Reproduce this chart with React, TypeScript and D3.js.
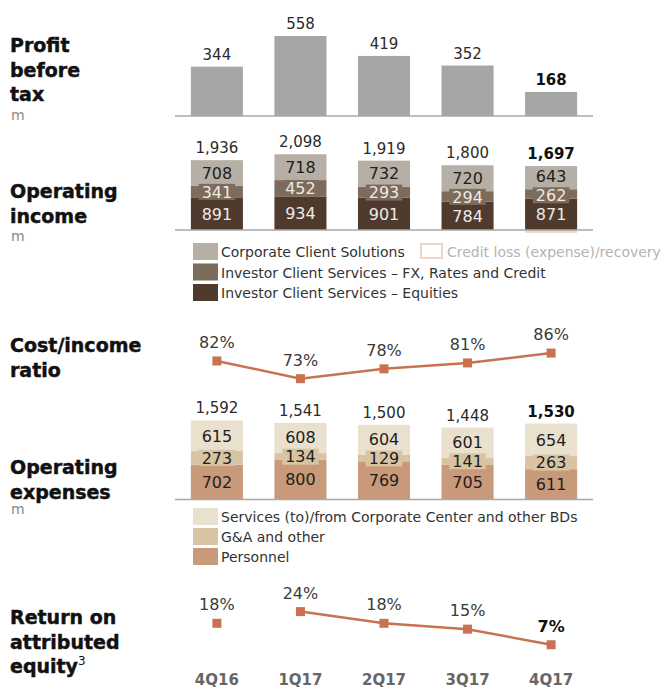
import React from "react";
import * as d3 from "d3";

const categories = ["4Q16", "1Q17", "2Q17", "3Q17", "4Q17"];
const profitBeforeTax = [344, 558, 419, 352, 168];
const ccsIncome = [708, 718, 732, 720, 643];
const icsFxIncome = [341, 452, 293, 294, 262];
const icsEqIncome = [891, 934, 901, 784, 871];
const opIncomeTotal = ["1,936", "2,098", "1,919", "1,800", "1,697"];
const creditLoss = [0, 0, 0, 0, -79];
const costIncomeRatio = [82, 73, 78, 81, 86];
const personnelExp = [702, 800, 769, 705, 611];
const gaOtherExp = [273, 134, 129, 141, 263];
const servicesExp = [615, 608, 604, 601, 654];
const opexTotal = ["1,592", "1,541", "1,500", "1,448", "1,530"];
const roeValues = [18, 24, 18, 15, 7];
const roeConnected = [false, true, true, true, true];
const highlight = [false, false, false, false, true];

const incomeLegend = [
  "Corporate Client Solutions",
  "Investor Client Services \u2013 FX, Rates and Credit",
  "Investor Client Services \u2013 Equities",
];
const creditLegend = "Credit loss (expense)/recovery";
const opexLegend = [
  "Services (to)/from Corporate Center and other BDs",
  "G&A and other",
  "Personnel",
];

const FONT = "'DejaVu Sans', Verdana, sans-serif";
const C = {
  profit: "#a6a6a6",
  ccs: "#b6afa6",
  fx: "#7d6b5b",
  eq: "#4f3b2d",
  credit: "#f2d3c6",
  services: "#e9e0cd",
  ga: "#d8c4a3",
  personnel: "#c99a79",
  line: "#c9724f",
  axis: "#a9a9a9",
  text: "#2a2a2a",
};

export default function App() {
  const x = d3
    .scaleBand<string>()
    .domain(categories)
    .range([175, 593])
    .paddingInner(0.377)
    .paddingOuter(0.19);
  const bw = x.bandwidth();
  const cx = (i: number) => (x(categories[i]) as number) + bw / 2;

  const yProfit = d3.scaleLinear().domain([0, 600]).range([116, 30]);
  const yInc = d3.scaleLinear().domain([0, 2500]).range([230, 140]);
  const yCost = d3.scaleLinear().domain([60, 90]).range([404.3, 345.2]);
  const yOpex = d3.scaleLinear().domain([0, 1600]).range([499.5, 420]);
  const yRoe = d3.scaleLinear().domain([0, 30]).range([658.4, 599.9]);

  const costLine = d3
    .line<number>()
    .x((_, i) => cx(i))
    .y((d) => yCost(d));
  const roeLine = d3
    .line<number>()
    .defined((_, i) => roeConnected[i])
    .x((_, i) => cx(i))
    .y((d) => yRoe(d));

  const titleProps = {
    fontFamily: FONT,
    fontWeight: "bold",
    fontSize: 19,
    fill: "#111",
    stroke: "#111",
    strokeWidth: 0.45,
  };

  const title = (lines: string[], y0: number, unit?: string, unitY?: number) => (
    <g>
      {lines.map((l, k) => (
        <text key={k} x={10} y={y0 + k * 24.5} {...titleProps}>
          {l}
        </text>
      ))}
      {unit && (
        <text x={11} y={unitY} fontFamily={FONT} fontSize={14} fill="#8a8a8a">
          {unit}
        </text>
      )}
    </g>
  );

  const stacked = (
    series: { vals: number[]; color: string; textColor: string; boxed?: boolean }[],
    y: d3.ScaleLinear<number, number>,
    fs: number,
    minGap: number
  ) =>
    categories.map((c, i) => {
      let acc = 0;
      const segs = series.map((s) => {
        const y0 = acc;
        acc += s.vals[i];
        return { y0, y1: acc, s, ty: (y(y0) + y(acc)) / 2 };
      });
      // resolve label overlaps between neighbouring segments
      for (let k = 1; k < segs.length; k++) {
        const gap = segs[k - 1].ty - segs[k].ty;
        if (gap < minGap) {
          const d = (minGap - gap) / 2;
          segs[k - 1].ty += d;
          segs[k].ty -= d;
        }
      }
      return (
        <g key={c}>
          {segs.map((g, k) => (
            <rect
              key={k}
              x={x(c)}
              width={bw}
              y={y(g.y1)}
              height={y(g.y0) - y(g.y1)}
              fill={g.s.color}
            />
          ))}
          {segs.map((g, k) => {
            const label = String(g.s.vals[i]);
            const w = label.length * fs * 0.636 + 6;
            return (
              <g key={"l" + k}>
                {g.s.boxed && (
                  <rect
                    x={cx(i) - w / 2}
                    y={g.ty - fs * 0.5}
                    width={w}
                    height={fs}
                    fill={g.s.color}
                  />
                )}
                <text
                  x={cx(i)}
                  y={g.ty}
                  dy="0.36em"
                  textAnchor="middle"
                  fontFamily={FONT}
                  fontSize={fs}
                  fill={g.s.textColor}
                >
                  {label}
                </text>
              </g>
            );
          })}
        </g>
      );
    });

  const valueLabel = (
    txt: string,
    px: number,
    py: number,
    bold: boolean,
    fs = 15,
    fill = C.text
  ) => (
    <text
      x={px}
      y={py}
      textAnchor="middle"
      fontFamily={FONT}
      fontSize={fs}
      fontWeight={bold ? "bold" : "normal"}
      fill={bold ? "#111" : fill}
    >
      {txt}
    </text>
  );

  return (
    <svg
      width={661}
      height={689}
      style={{ position: "absolute", left: 0, top: 0, background: "#fff" }}
    >
      {/* Titles */}
      {title(["Profit", "before", "tax"], 52, "m", 120)}
      {title(["Operating", "income"], 198, "m", 241)}
      {title(["Cost/income", "ratio"], 352, undefined)}
      {title(["Operating", "expenses"], 474, "m", 514)}
      <g>
        <text x={10} y={624} {...titleProps}>
          Return on
        </text>
        <text x={10} y={648.5} {...titleProps}>
          attributed
        </text>
        <text x={10} y={673} {...titleProps}>
          equity
          <tspan fontSize={12} dy={-8} fontWeight="normal" strokeWidth={0}>
            3
          </tspan>
        </text>
      </g>

      {/* Profit before tax */}
      {profitBeforeTax.map((v, i) => (
        <g key={i}>
          <rect
            x={x(categories[i])}
            width={bw}
            y={yProfit(v)}
            height={yProfit(0) - yProfit(v)}
            fill={C.profit}
          />
          {valueLabel(String(v), cx(i), yProfit(v) - 7, highlight[i])}
        </g>
      ))}
      <line x1={175} x2={593} y1={yProfit(0)} y2={yProfit(0)} stroke={C.axis} strokeWidth={1.5} />

      {/* Operating income */}
      {creditLoss.map((v, i) =>
        v < 0 ? (
          <rect
            key={"cl" + i}
            x={x(categories[i])}
            width={bw}
            y={yInc(0)}
            height={yInc(v) - yInc(0)}
            fill={C.credit}
          />
        ) : null
      )}
      {stacked(
        [
          { vals: icsEqIncome, color: C.eq, textColor: "#eeeae6" },
          { vals: icsFxIncome, color: C.fx, textColor: "#eeeae6", boxed: true },
          { vals: ccsIncome, color: C.ccs, textColor: "#1e1e1e" },
        ],
        yInc,
        16,
        19
      )}
      {opIncomeTotal.map((t, i) => {
        const top = icsEqIncome[i] + icsFxIncome[i] + ccsIncome[i];
        return <g key={"it" + i}>{valueLabel(t, cx(i), yInc(top) - 7, highlight[i])}</g>;
      })}
      <line x1={175} x2={593} y1={yInc(0)} y2={yInc(0)} stroke={C.axis} strokeWidth={1.5} />

      {/* Income legend */}
      {[C.ccs, C.fx, C.eq].map((col, k) => (
        <g key={"il" + k}>
          <rect x={193} y={243 + k * 20.5} width={25} height={17} fill={col} />
          <text x={221} y={252 + k * 20.5} dy="0.36em" fontFamily={FONT} fontSize={14} fill="#333">
            {incomeLegend[k]}
          </text>
        </g>
      ))}
      <rect x={421} y={244} width={21} height={14} fill="#fff" stroke={C.credit} strokeWidth={2} />
      <text x={447} y={252} dy="0.36em" fontFamily={FONT} fontSize={14} fill="#b3b3b3">
        {creditLegend}
      </text>

      {/* Cost/income ratio */}
      <path d={costLine(costIncomeRatio) || ""} fill="none" stroke={C.line} strokeWidth={2.5} />
      {costIncomeRatio.map((v, i) => (
        <g key={"ci" + i}>
          <rect x={cx(i) - 4.5} y={yCost(v) - 4.5} width={9} height={9} fill={C.line} />
          {valueLabel(v + "%", cx(i), yCost(v) - 13, false, 16, "#3a3a3a")}
        </g>
      ))}

      {/* Operating expenses */}
      {stacked(
        [
          { vals: personnelExp, color: C.personnel, textColor: "#1e1e1e" },
          { vals: gaOtherExp, color: C.ga, textColor: "#1e1e1e", boxed: true },
          { vals: servicesExp, color: C.services, textColor: "#1e1e1e" },
        ],
        yOpex,
        16,
        19
      )}
      {opexTotal.map((t, i) => {
        const top = personnelExp[i] + gaOtherExp[i] + servicesExp[i];
        return <g key={"ot" + i}>{valueLabel(t, cx(i), yOpex(top) - 7, highlight[i])}</g>;
      })}
      <line x1={175} x2={593} y1={yOpex(0)} y2={yOpex(0)} stroke={C.axis} strokeWidth={1.5} />

      {/* Opex legend */}
      {[C.services, C.ga, C.personnel].map((col, k) => (
        <g key={"ol" + k}>
          <rect x={193} y={508 + k * 20} width={25} height={17} fill={col} />
          <text x={221} y={517 + k * 20} dy="0.36em" fontFamily={FONT} fontSize={14} fill="#333">
            {opexLegend[k]}
          </text>
        </g>
      ))}

      {/* Return on attributed equity */}
      <path d={roeLine(roeValues) || ""} fill="none" stroke={C.line} strokeWidth={2.5} />
      {roeValues.map((v, i) => (
        <g key={"roe" + i}>
          <rect x={cx(i) - 4.5} y={yRoe(v) - 4.5} width={9} height={9} fill={C.line} />
          {valueLabel(v + "%", cx(i), yRoe(v) - 13, highlight[i], 16, "#3a3a3a")}
        </g>
      ))}

      {/* Category labels */}
      {categories.map((c, i) => (
        <text
          key={c}
          x={cx(i)}
          y={685}
          textAnchor="middle"
          fontFamily={FONT}
          fontWeight="bold"
          fontSize={15}
          fill="#666"
        >
          {c}
        </text>
      ))}
    </svg>
  );
}
